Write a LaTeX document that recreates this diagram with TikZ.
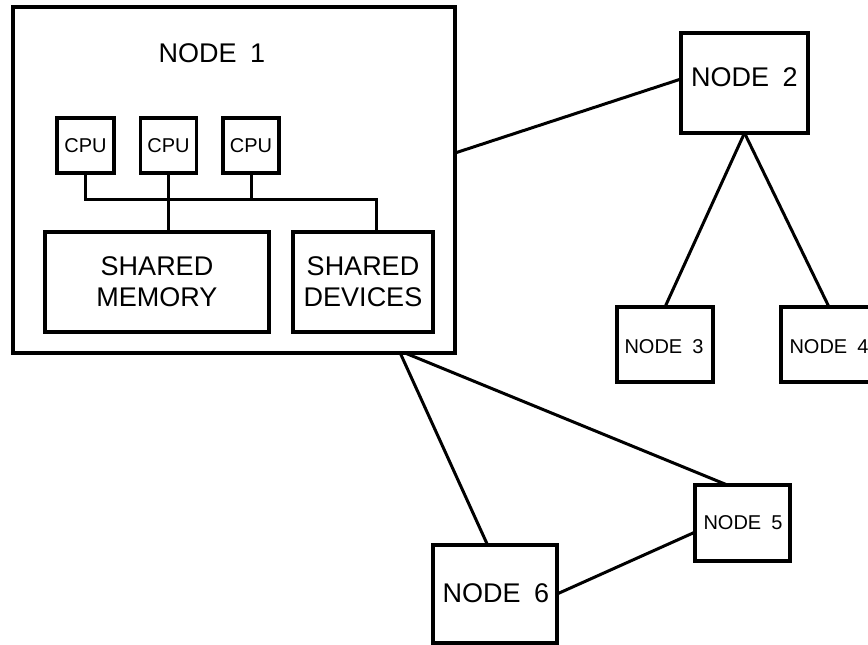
\documentclass[tikz,border=0pt]{standalone}
\usepackage{fontspec}
\setmainfont{Liberation Sans}
\usetikzlibrary{calc}
\newcommand{\wgap}{\hspace{0.5em}}
\tikzset{
  box/.style={draw, line width=3.4pt, inner sep=0pt, outer sep=0pt, minimum width=#1},
  conn/.style={line width=3pt},
  big/.style={inner sep=0pt, font=\fontsize{27}{31}\selectfont, align=center},
  small/.style={inner sep=0pt, font=\fontsize{20}{24}\selectfont},
}
\begin{document}
\begin{tikzpicture}[x=1pt, y=-1pt, line join=miter]
\useasboundingbox (0,0) rectangle (868,645);
\fill[white] (0,0) rectangle (868,645);
\begin{scope}
\clip (0,0) rectangle (868,645);
% boxes
\node[box=442, minimum height=346] (n1) at (234,180) {};
\node[box=57, minimum height=55] (cpu1) at (85.5,145.5) {};
\node[box=56, minimum height=55] (cpu2) at (168.5,145.5) {};
\node[box=56, minimum height=55] (cpu3) at (251,145.5) {};
\node[box=224, minimum height=100] (mem) at (157,282) {};
\node[box=140, minimum height=100] (dev) at (363,282) {};
\node[box=127, minimum height=100] (n2) at (744.5,83) {};
\node[box=96, minimum height=75] (n3) at (665,344.5) {};
\node[box=96, minimum height=75] (n4) at (829,344.5) {};
\node[box=95, minimum height=76] (n5) at (742.5,523) {};
\node[box=124, minimum height=98] (n6) at (495,594) {};
% texts
\node[big] (t1) at (212,53) {NODE\wgap 1};
\node[small] (tc1) at (cpu1) {CPU};
\node[small] (tc2) at (cpu2) {CPU};
\node[small] (tc3) at (cpu3) {CPU};
\node[big] (tmem) at (mem) {SHARED\\MEMORY};
\node[big] (tdev) at (dev) {SHARED\\DEVICES};
\node[big] (t2) at (744.5,77) {NODE\wgap 2};
\node[small] (t3) at (664,347) {NODE\wgap 3};
\node[small] (t4) at (829,347) {NODE\wgap 4};
\node[small] (t5) at (743,523) {NODE\wgap 5};
\node[big] (t6) at (496,593) {NODE\wgap 6};
% internal bus
\coordinate (busR) at (376,199);
\draw[conn] (cpu1.south) |- (busR) -- (busR |- dev.north);
\draw[conn] (cpu2.south) -- (cpu2.south |- mem.north);
\draw[conn] (cpu3.south) -- (cpu3.south |- busR);
% network connectors
\draw[conn] ($(n1.north east)!0.422!(n1.south east)$) -- ($(n2.north west)!0.46!(n2.south west)$);
\draw[conn] (n2.south) -- (n3.north);
\draw[conn] (n2.south) -- (n4.north);
\draw[conn] ($(n1.south west)!0.876!(n1.south east)$) -- ($(n6.north west)!0.44!(n6.north east)$);
\draw[conn] ($(n1.south west)!0.887!(n1.south east)$) -- ($(n5.north west)!0.34!(n5.north east)$);
\draw[conn] ($(n5.north west)!0.62!(n5.south west)$) -- (n6.east);
\end{scope}
\end{tikzpicture}
\end{document}
